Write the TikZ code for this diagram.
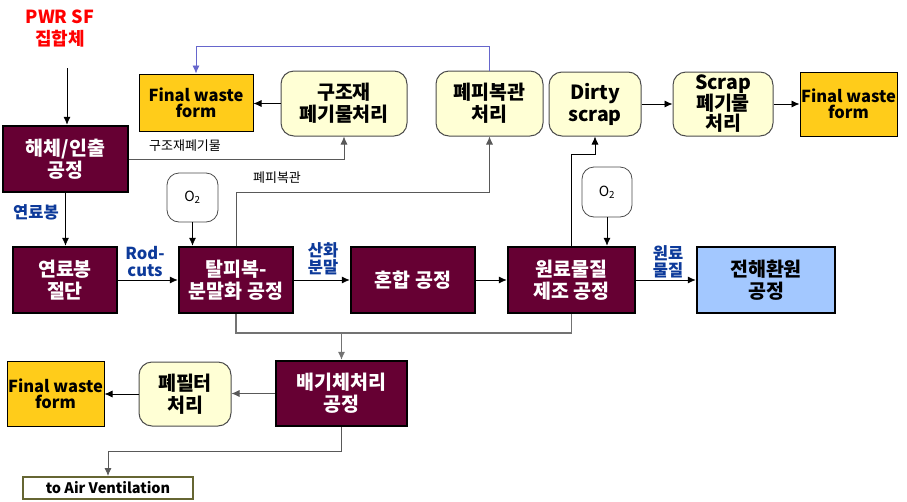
\documentclass[tikz,border=0pt]{standalone}
\usepackage{fontspec}
\setmainfont{Noto Sans CJK KR}
\usetikzlibrary{arrows.meta}
\definecolor{procred}{HTML}{660033}
\definecolor{wastegold}{HTML}{FFCC1A}
\definecolor{treatyel}{HTML}{FFFFD5}
\definecolor{redblue}{HTML}{A3C8FF}
\definecolor{lblblue}{HTML}{0D3A9A}
\definecolor{retline}{HTML}{6666CC}
\definecolor{ventline}{HTML}{666633}
\begin{document}
\begin{tikzpicture}[x=1pt,y=-1pt,
    proc/.style={draw=black,line width=2.5pt,fill=procred,text=white,align=center,inner sep=0pt,
      font=\fontsize{19.5}{22}\selectfont\bfseries},
    waste/.style={draw=black,line width=1pt,fill=wastegold,align=center,inner sep=0pt,
      font=\fontsize{16.5}{16}\selectfont\bfseries},
    treat/.style={draw=black!70,line width=1pt,fill=treatyel,rounded corners=13pt,align=center,inner sep=0pt,
      font=\fontsize{19.5}{22}\selectfont\bfseries},
    gas/.style={draw=black!70,line width=0.8pt,fill=white,rounded corners=12pt,inner sep=0pt,
      font=\fontsize{14}{15}\selectfont},
    flowlbl/.style={text=lblblue,align=center,font=\fontsize{16.5}{17}\selectfont\bfseries},
    sidelbl/.style={font=\fontsize{13}{14}\selectfont},
    arr/.style={-{Latex[length=8pt,width=7pt]},line width=0.8pt},
    sidearr/.style={arr,draw=black!65}]
    \useasboundingbox (0,0) rectangle (907,501);
    % process boxes
    \node (hc) at (65.5,159) [proc,minimum width=125,minimum height=66] {해체/인출\\공정};
    \node (cut) at (65,280) [proc,minimum width=104,minimum height=66] {연료봉\\절단};
    \node (tp) at (236,280) [proc,minimum width=114,minimum height=66] {탈피복-\\분말화 공정};
    \node (mix) at (413,280) [proc,minimum width=124,minimum height=66] {혼합 공정};
    \node (wr) at (571.5,280) [proc,minimum width=127,minimum height=66] {원료물질\\제조 공정};
    \node (bg) at (341.5,393.5) [proc,minimum width=131,minimum height=65] {배기체처리\\공정};
    \node (er) at (766,280) [proc,fill=redblue,text=black,minimum width=138,minimum height=66] {전해환원\\공정};
    % treatment and waste boxes
    \node (gj) at (344,103.5) [treat,minimum width=126,minimum height=65] {구조재\\폐기물처리};
    \node (pp) at (489.5,103.5) [treat,minimum width=107,minimum height=65] {폐피복관\\처리};
    \node (ds) at (595,104) [treat,minimum width=92,minimum height=64] {Dirty\\scrap};
    \node (sc) at (723,104) [treat,minimum width=100,minimum height=64,font=\fontsize{19.5}{20.5}\selectfont\bfseries] {Scrap\\폐기물\\처리};
    \node (pf) at (185,394) [treat,minimum width=92,minimum height=64] {폐필터\\처리};
    \node (fwl) at (196,102.5) [waste,minimum width=114,minimum height=57] {Final waste\\form};
    \node (fwr) at (848.5,104) [waste,minimum width=97,minimum height=64] {Final waste\\form};
    \node (fwb) at (55.5,393.5) [waste,minimum width=97,minimum height=65] {Final waste\\form};
    \node (air) at (108,488) [draw=ventline,line width=2pt,minimum width=170,minimum height=22,inner sep=0pt,
      font=\fontsize{14.5}{15}\selectfont\bfseries] {to Air Ventilation};
    \node (o2a) at (192.5,197.5) [gas,minimum width=51,minimum height=49] {O\textsubscript{2}};
    \node (o2b) at (607,192) [gas,minimum width=50,minimum height=50] {O\textsubscript{2}};
    % labels
    \node (pwr) at (60,29) [text=red,align=center,font=\fontsize{18}{22}\selectfont\bfseries] {PWR SF\\집합체};
    \node (lfuel) at (36,212) [flowlbl] {연료봉};
    \node (lrod) at (145,262) [flowlbl] {Rod-\\cuts};
    \node (lox) at (323,259) [flowlbl] {산화\\분말};
    \node (lraw) at (668,262) [flowlbl] {원료\\물질};
    \node (lstr) at (185,146) [sidelbl] {구조재폐기물};
    \node (lhull) at (277,178) [sidelbl] {폐피복관};
    \coordinate (pwrend) at (67,68);
    \coordinate (blueturn) at (196,46);
    \coordinate (hullturn) at (236,192);
    \coordinate (dsturn) at (571.5,154);
    \coordinate (colL) at (236,333);
    \coordinate (colR) at (571.5,333);
    \coordinate (airturn) at (341.5,451);
    % main flow
    \draw [arr] (pwrend) -- (pwrend |- hc.north);
    \draw [arr] (hc.south) -- (hc.south |- cut.north);
    \draw [arr] (cut) -- (tp);
    \draw [arr] (tp) -- (mix);
    \draw [arr] (mix) -- (wr);
    \draw [arr] (wr) -- (er);
    \draw [arr] (o2a.south) -- (o2a.south |- tp.north);
    \draw [arr] (o2b.south) -- (o2b.south |- wr.north);
    % side streams
    \draw [sidearr] (hc.east) -| (gj.south);
    \draw [arr] (gj.west) -- (gj.west -| fwl.east);
    \draw [sidearr] (tp.north) -- (hullturn) -| (pp.south);
    \draw [arr,draw=retline] (pp.north) |- (blueturn) -- (fwl.north);
    \draw [arr] (wr.north) -- (dsturn) -| (ds.south);
    \draw [arr] (ds) -- (sc);
    \draw [arr] (sc) -- (sc -| fwr.west);
    \draw [line width=1.2pt,draw=black!55] (tp.south) -- (colL) -- (colR) -- (wr.south);
    \draw [arr,draw=black!55] (bg.north |- colL) -- (bg.north);
    \draw [sidearr] (bg.west) -- (bg.west -| pf.east);
    \draw [arr] (pf.west) -- (pf.west -| fwb.east);
    \draw [sidearr] (bg.south) -- (airturn) -| (air.north);
\end{tikzpicture}
\end{document}
